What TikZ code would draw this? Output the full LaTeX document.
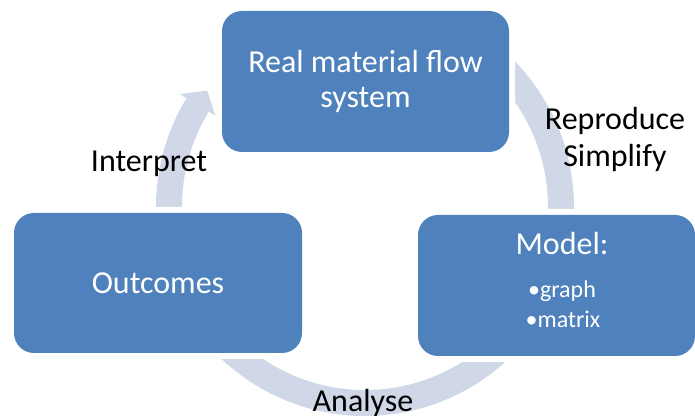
\documentclass[tikz,border=0pt]{standalone}
\usepackage{fontspec}
\setmainfont{Carlito}
\usetikzlibrary{calc}
\definecolor{boxblue}{HTML}{4F81BD}
\definecolor{ringgray}{HTML}{D0D8E8}
\begin{document}
\begin{tikzpicture}[x=0.75pt,y=0.75pt,
  stagebox/.style={rectangle, rounded corners=15pt, fill=boxblue, text=white,
    inner sep=0pt, align=center, font=\fontsize{24}{26.5}\selectfont,
    preaction={draw=white, line width=9pt}},
  steplabel/.style={anchor=base, text=black, inner sep=0pt,
    font=\fontsize{24}{28}\selectfont},
  itemlabel/.style={anchor=base, text=white, inner sep=0pt,
    font=\fontsize{18}{22}\selectfont},
  ring/.style={draw=ringgray, line width=19.5pt}]
\useasboundingbox (0,0) rectangle (695,416);

% centre of the cycle ring
\coordinate (C) at (365,209);

% ring, ending in the arrow that points back to the top stage
\draw[ring] ($(C)+(148.6:196)$) arc[start angle=148.6, end angle=420, radius=196];
\fill[ringgray] ($(C)+(148.6:216.8)$) -- ($(C)+(143.6:196)$)
  -- ($(C)+(148.6:175.2)$) -- cycle;

% stages
\node[stagebox, minimum width=215.25pt, minimum height=105.75pt] (real)
  at (365.5,334.5) {Real material flow\\system};
\node[stagebox, minimum width=216pt, minimum height=105pt] (outc)
  at (158,133) {Outcomes};
\node[stagebox, minimum width=207.75pt, minimum height=105.75pt] (model)
  at (556.5,130.5) {};
\node[steplabel, text=white] (modeltitle) at (562,161) {Model:};
\node[itemlabel] (graph) at (562,118) {•graph};
\node[itemlabel] (matrix) at (563,88) {•matrix};

% step labels
\node[steplabel] (interp) at (149,244) {Interpret};
\node[steplabel] (repro) at (615,286) {Reproduce};
\node[steplabel] (simpl) at (615,249) {Simplify};
\node[steplabel] (anal) at (363,4) {Analyse};
\end{tikzpicture}
\end{document}
